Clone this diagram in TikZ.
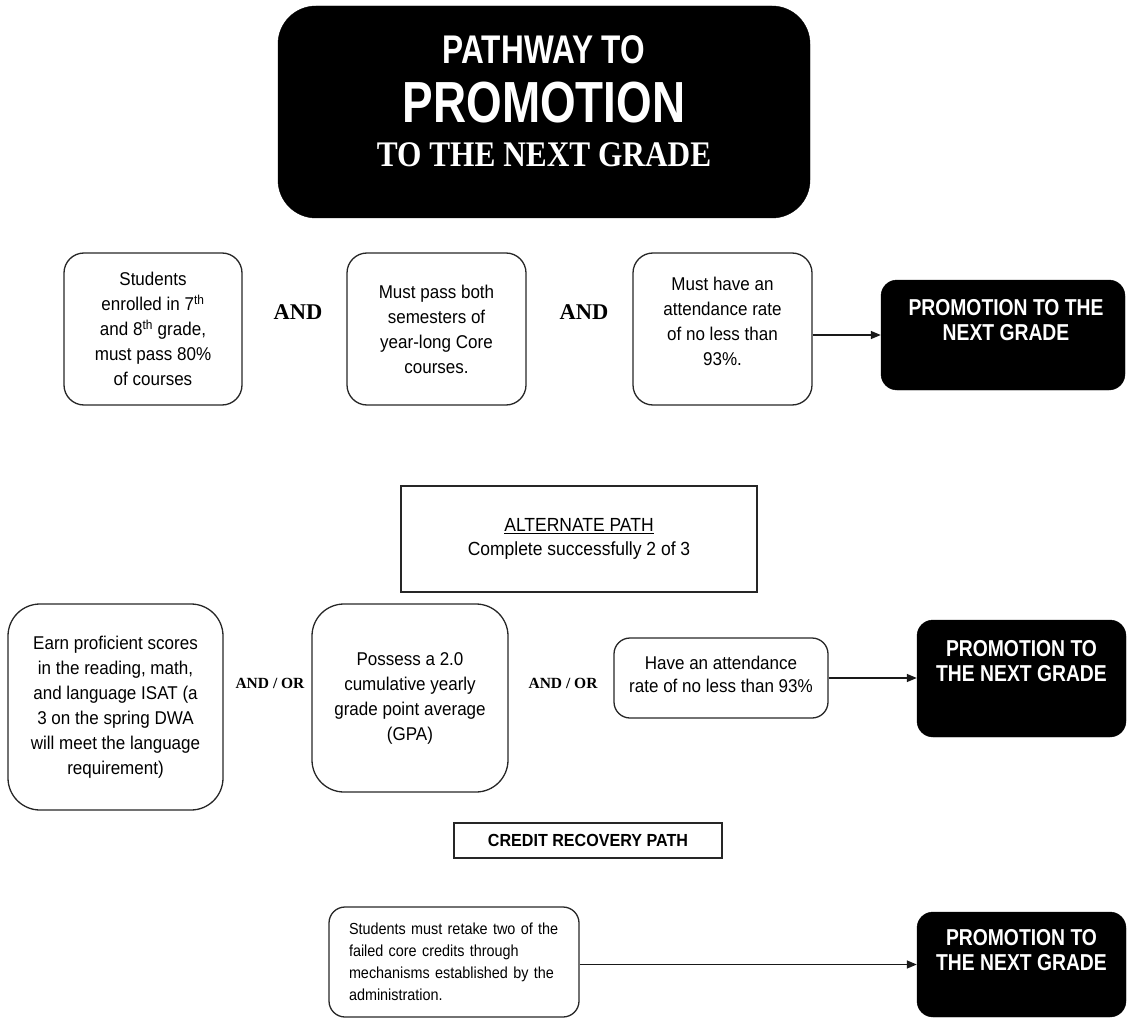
\documentclass[tikz,border=0pt]{standalone}
\usepackage{fontspec}
\setmainfont{Liberation Serif}
\newfontfamily\regf[FakeStretch=0.92]{Liberation Sans}
\newfontfamily\smallf[FakeStretch=0.9]{Liberation Sans}
\newfontfamily\condf[FakeStretch=0.84]{Liberation Sans}
\newfontfamily\titlef[FakeStretch=0.79]{Liberation Sans}
\newfontfamily\titleserif[FakeStretch=0.87]{Liberation Serif}
\usetikzlibrary{arrows.meta}
\tikzset{
  rbox/.style={draw=black!85, line width=1.3pt, rounded corners=20pt, align=center,
    inner sep=0pt, font=\regf\fontsize{18.5}{25}\selectfont},
  blk/.style={fill=black, draw=black, rounded corners=16pt, inner sep=0pt},
  blktext/.style={text=white, align=center, inner sep=0pt,
    font=\condf\bfseries\fontsize{23}{25}\selectfont},
  andlbl/.style={font=\bfseries\fontsize{22.5}{24}\selectfont, inner sep=0pt},
  andor/.style={font=\bfseries\fontsize{15.5}{17}\selectfont, inner sep=0pt},
  sqbox/.style={draw=black!85, line width=1.4pt, inner sep=0pt, align=center},
  arr/.style={draw=black!90, line width=1.4pt, -{Triangle[length=10pt,width=8pt]}},
}
\begin{document}
\begin{tikzpicture}[x=1pt,y=-1pt]
\useasboundingbox (0,0) rectangle (1127,1019);
% title
\node[blk, rounded corners=38pt, minimum width=532pt, minimum height=212pt] (title) at (544,112) {};
\node[text=white, inner sep=0pt, font=\titlef\bfseries\fontsize{40}{44}\selectfont] (t1) at (544,50) {PATHWAY TO};
\node[text=white, inner sep=0pt, font=\titlef\bfseries\fontsize{58}{60}\selectfont] (t2) at (544,103) {PROMOTION};
\node[text=white, inner sep=0pt, font=\titleserif\bfseries\fontsize{36}{40}\selectfont] (t3) at (544,155) {TO THE NEXT GRADE};
% row 1
\node[rbox, minimum width=178pt, minimum height=152pt] (b1) at (153,329)
  {Students\\enrolled in 7\textsuperscript{th}\\and 8\textsuperscript{th} grade,\\must pass 80\%\\of courses};
\node[rbox, minimum width=179pt, minimum height=152pt] (b2) at (436.5,329)
  {Must pass both\\semesters of\\year-long Core\\courses.};
\node[rbox, minimum width=179pt, minimum height=152pt] (b3) at (722.5,329)
  {Must have an\\attendance rate\\of no less than\\93\%.\\[-9pt]};
\node[andlbl] (and1) at (298,312) {AND};
\node[andlbl] (and2) at (584,312) {AND};
\node[blk, minimum width=244pt, minimum height=110pt] (p1) at (1003,335) {};
\node[blktext] (p1t) at (1006,320.5) {PROMOTION TO THE\\NEXT GRADE};
\draw[arr] (p1.west -| b3.east) -- (p1.west);
% alternate path
\node[sqbox, minimum width=356pt, minimum height=106pt, font=\regf\fontsize{19}{24}\selectfont] (alt) at (579,539)
  {\underline{ALTERNATE PATH}\\Complete successfully 2 of 3};
% row 2
\node[rbox, rounded corners=32pt, minimum width=215pt, minimum height=206pt] (a1) at (115.5,707)
  {Earn proficient scores\\in the reading, math,\\and language ISAT (a\\3 on the spring DWA\\will meet the language\\requirement)};
\node[rbox, rounded corners=32pt, minimum width=196pt, minimum height=188pt] (a2) at (410,698)
  {Possess a 2.0\\cumulative yearly\\grade point average\\(GPA)};
\node[rbox, rounded corners=16pt, minimum width=214pt, minimum height=80pt, font=\regf\fontsize{18.5}{23}\selectfont] (a3) at (721,678)
  {Have an attendance\\rate of no less than 93\%\\[-15pt]};
\node[andor] (ao1) at (270,683) {AND / OR};
\node[andor] (ao2) at (563,683) {AND / OR};
\node[blk, minimum width=209pt, minimum height=117pt] (p2) at (1021.5,678.5) {};
\node[blktext] (p2t) at (1021.5,661) {PROMOTION TO\\THE NEXT GRADE};
\draw[arr] (a3.east) -- (a3.east -| p2.west);
% credit recovery
\node[sqbox, minimum width=268pt, minimum height=35pt, font=\regf\bfseries\fontsize{17.5}{20}\selectfont] (cr) at (588,840.5)
  {CREDIT RECOVERY PATH};
\node[rbox, rounded corners=16pt, minimum width=250pt, minimum height=110pt, align=left, text width=210pt,
  font=\smallf\fontsize{16}{22}\selectfont] (d1) at (454,962)
  {Students must retake two of the\\failed core credits through\\mechanisms established by the\\administration.};
\node[blk, minimum width=209pt, minimum height=105pt] (p3) at (1021.5,964.5) {};
\node[blktext] (p3t) at (1021.5,950.5) {PROMOTION TO\\THE NEXT GRADE};
\draw[arr] (p3.west -| d1.east) -- (p3.west);
\end{tikzpicture}
\end{document}
